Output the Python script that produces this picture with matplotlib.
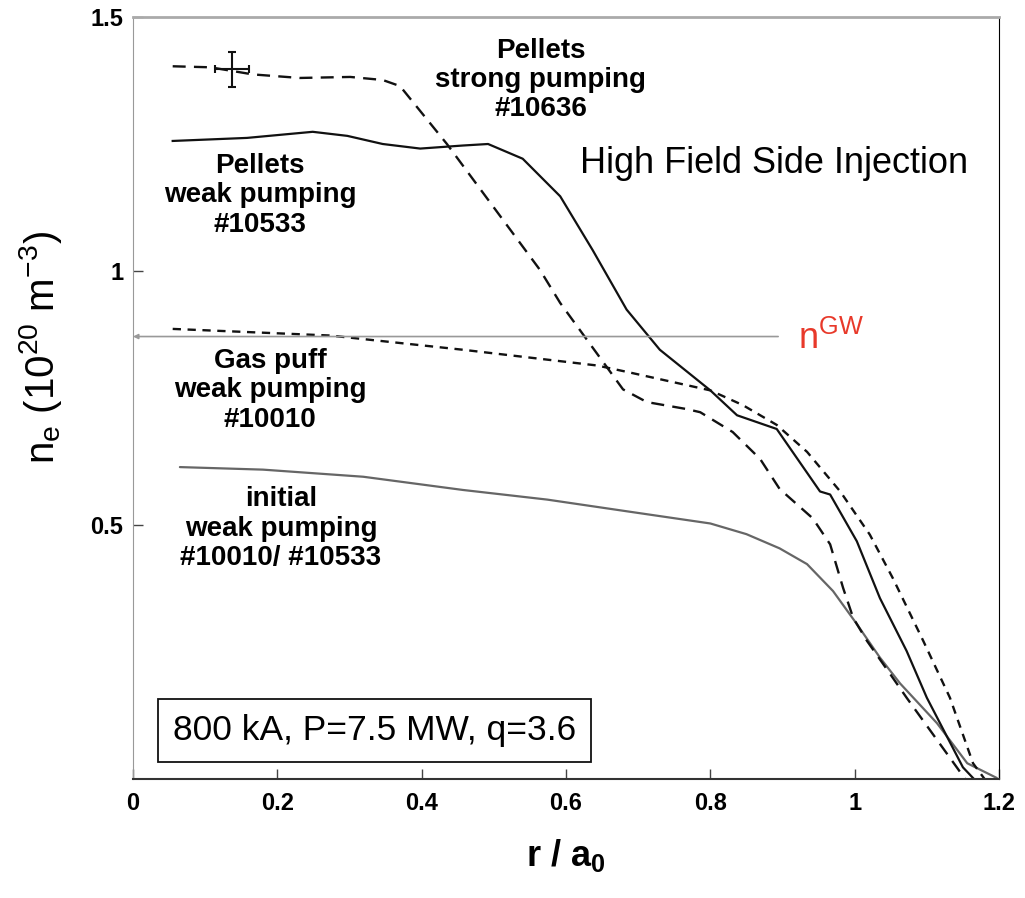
import matplotlib
matplotlib.use("Agg")
import matplotlib.pyplot as plt

plt.rcParams['font.family'] = ['Liberation Sans', 'DejaVu Sans']
plt.rcParams['mathtext.fontset'] = 'custom'
plt.rcParams['mathtext.rm'] = 'Liberation Sans'
plt.rcParams['mathtext.it'] = 'Liberation Sans:italic'
plt.rcParams['mathtext.bf'] = 'Liberation Sans:bold'

# Pellets, weak pumping #10533 (solid)
r_pw = [0.055, 0.158, 0.249, 0.297, 0.346, 0.398, 0.457, 0.492, 0.540, 0.592, 0.637, 0.684, 0.730,
        0.800, 0.837, 0.892, 0.952, 0.966, 1.003, 1.035, 1.072, 1.100, 1.150, 1.164]
n_pw = [1.256, 1.262, 1.274, 1.266, 1.250, 1.241, 1.247, 1.250, 1.221, 1.147, 1.041, 0.924, 0.845,
        0.765, 0.716, 0.689, 0.566, 0.560, 0.468, 0.356, 0.252, 0.160, 0.023, 0.002]

# Pellets, strong pumping #10636 (dashed)
r_ps = [0.055, 0.107, 0.166, 0.231, 0.301, 0.346, 0.370, 0.435, 0.564, 0.592, 0.679, 0.712, 0.768,
        0.786, 0.831, 0.869, 0.896, 0.942, 0.966, 0.984, 0.998, 1.017, 1.049, 1.072, 1.142, 1.153]
n_ps = [1.403, 1.401, 1.387, 1.380, 1.382, 1.376, 1.364, 1.250, 1.002, 0.937, 0.767, 0.742, 0.728,
        0.722, 0.683, 0.630, 0.571, 0.513, 0.462, 0.376, 0.317, 0.272, 0.207, 0.160, 0.022, 0.0]

# Gas puff, weak pumping #10010 (dotted)
r_gp = [0.055, 0.273, 0.457, 0.643, 0.689, 0.800, 0.845, 0.892, 0.934, 0.980, 1.021, 1.053, 1.095,
        1.132, 1.164, 1.180]
n_gp = [0.886, 0.873, 0.845, 0.814, 0.800, 0.765, 0.736, 0.697, 0.644, 0.566, 0.481, 0.395, 0.272,
        0.160, 0.031, 0.0]

# Initial, weak pumping #10010/#10533 (grey solid)
r_in = [0.065, 0.180, 0.319, 0.457, 0.574, 0.689, 0.800, 0.850, 0.896, 0.934, 0.970, 1.003, 1.035,
        1.063, 1.114, 1.156, 1.197]
n_in = [0.614, 0.609, 0.595, 0.569, 0.550, 0.526, 0.503, 0.482, 0.454, 0.423, 0.370, 0.305, 0.239,
        0.188, 0.110, 0.031, 0.002]

# Error bar marker
err_r, err_n = 0.137, 1.397
err_dr, err_dn = 0.024, 0.034

# Greenwald density
n_gw = 0.871
r_gw_end = 0.894

xticks = [0, 0.2, 0.4, 0.6, 0.8, 1.0, 1.2]
xticklabels = ["0", "0.2", "0.4", "0.6", "0.8", "1", "1.2"]
yticks = [0.5, 1.0, 1.5]
yticklabels = ["0.5", "1", "1.5"]

fig = plt.figure(figsize=(10.25, 8.98), dpi=100)
ax = fig.add_axes([133/1025, (898-779)/898, (999-133)/1025, (779-17)/898])
ax.set_xlim(0, 1.2)
ax.set_ylim(0, 1.491)

ax.plot(r_in, n_in, color='#666666', lw=1.6, solid_capstyle='round')
ax.plot(r_gp, n_gp, color='#111111', lw=1.7, dashes=(3.5, 2.8))
ax.plot(r_ps, n_ps, color='#111111', lw=1.7, dashes=(5.5, 3.5))
ax.plot(r_pw, n_pw, color='#111111', lw=1.6)

ax.errorbar([err_r], [err_n], xerr=[err_dr], yerr=[err_dn], fmt='none', ecolor='#111111',
            elinewidth=1.5, capsize=3, capthick=1.5)

# Greenwald line with arrow to the left axis
ax.annotate('', xy=(0, n_gw), xytext=(r_gw_end, n_gw),
            arrowprops=dict(arrowstyle='-|>', color='#999999', lw=1.2, mutation_scale=7,
                            shrinkA=0, shrinkB=0))
ax.text(0.921, n_gw - 0.005, r'n$^{\mathrm{GW}}$', color='#e8392a', fontsize=26,
        va='center', ha='left')

bold = dict(fontsize=20, fontweight='bold', ha='center', va='center', linespacing=1.17)
ax.text(0.565, 1.376, 'Pellets\nstrong pumping\n#10636', **bold)
ax.text(0.176, 1.149, 'Pellets\nweak pumping\n#10533', **bold)
ax.text(0.190, 0.765, 'Gas puff\nweak pumping\n#10010', **bold)
ax.text(0.205, 0.493, 'initial\nweak pumping\n#10010/ #10533', **bold)

ax.text(0.888, 1.211, 'High Field Side Injection', fontsize=26, ha='center', va='center')

ax.text(0.335, 0.096, '800 kA, P=7.5 MW, q=3.6', fontsize=25.5, ha='center', va='center',
        bbox=dict(boxstyle='square,pad=0.42', facecolor='white', edgecolor='#111111', lw=1.3))

ax.set_xticks(xticks)
ax.set_xticklabels(xticklabels)
ax.set_yticks(yticks)
ax.set_yticklabels(yticklabels)
ax.tick_params(direction='in', length=7, width=1, colors='#444444', labelcolor='black',
               labelsize=17)
ax.tick_params(axis='y', pad=7)
ax.tick_params(axis='x', pad=9)
for lab in ax.get_xticklabels() + ax.get_yticklabels():
    lab.set_fontweight('bold')

ax.spines['left'].set_color('#999999')
ax.spines['top'].set_color('#aaaaaa')
ax.spines['top'].set_linewidth(2)
ax.spines['right'].set_color('black')
ax.spines['bottom'].set_color('#333333')
ax.spines['bottom'].set_linewidth(1.5)

ax.set_xlabel(r'r / a$_\mathbf{0}$', fontsize=26, fontweight='bold', va='center')
ax.xaxis.set_label_coords(0.5, -(855-779)/762)
ax.set_ylabel(r'n$_\mathrm{e}$ (10$^{20}$ m$^{-3}$)', fontsize=29, va='center')
ax.yaxis.set_label_coords(-(133-41)/866, (779-348)/762)

fig.savefig('out.png', dpi=100)
